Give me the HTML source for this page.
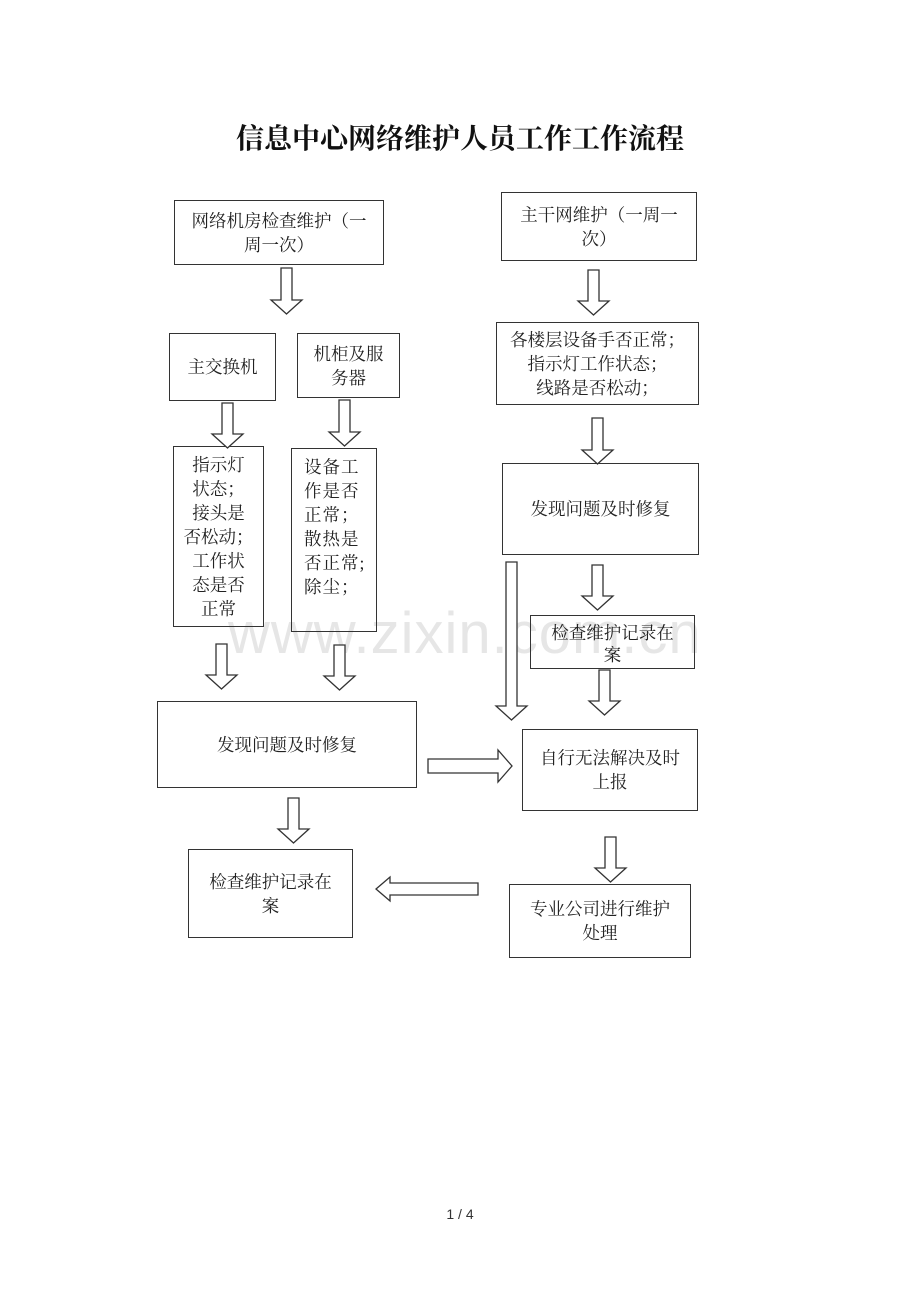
<!DOCTYPE html>
<html><head><meta charset="utf-8"><style>
body{margin:0;background:#fff;}
#p{position:relative;width:920px;height:1302px;overflow:hidden;font-family:"Liberation Serif","Noto Serif CJK SC","Noto Sans CJK SC",serif;color:#222;}
.b{position:absolute;border:1.3px solid #333;box-sizing:border-box;display:flex;align-items:center;justify-content:center;text-align:center;font-size:17.5px;line-height:24px;}
.t{position:absolute;left:0;width:920px;top:117px;text-align:center;font-size:28px;font-weight:bold;color:#111;}
svg{position:absolute;left:0;top:0;}
</style></head><body><div id="p">
<div class="t">信息中心网络维护人员工作工作流程</div>
<div style="position:absolute;left:228px;top:600px;font-family:'Liberation Sans',sans-serif;font-size:58px;color:#e6e6e6;letter-spacing:1px;">www.zixin.com.cn</div>
<div class="b" style="left:174px;top:200px;width:210px;height:65px;">网络机房检查维护（一<br>周一次）</div>
<div class="b" style="left:501px;top:192px;width:196px;height:69px;">主干网维护（一周一<br>次）</div>
<div class="b" style="left:169px;top:333px;width:107px;height:68px;">主交换机</div>
<div class="b" style="left:297px;top:333px;width:103px;height:65px;">机柜及服<br>务器</div>
<div class="b" style="left:173px;top:446px;width:91px;height:181px;align-items:flex-start;padding-top:6px;">指示灯<br>状态；<br>接头是<br>否松动；<br>工作状<br>态是否<br>正常</div>
<div class="b" style="left:291px;top:448px;width:86px;height:184px;align-items:flex-start;justify-content:flex-start;text-align:left;padding:6px 0 0 12px;letter-spacing:1px;">设备工<br>作是否<br>正常；<br>散热是<br>否正常;<br>除尘；</div>
<div class="b" style="left:496px;top:322px;width:203px;height:83px;">各楼层设备手否正常；<br>指示灯工作状态；<br>线路是否松动；</div>
<div class="b" style="left:502px;top:463px;width:197px;height:92px;">发现问题及时修复</div>
<div class="b" style="left:530px;top:615px;width:165px;height:54px;line-height:22px;align-items:flex-start;padding-top:6px;overflow:hidden;">检查维护记录在<br>案</div>
<div class="b" style="left:157px;top:701px;width:260px;height:87px;">发现问题及时修复</div>
<div class="b" style="left:522px;top:729px;width:176px;height:82px;">自行无法解决及时<br>上报</div>
<div class="b" style="left:188px;top:849px;width:165px;height:89px;">检查维护记录在<br>案</div>
<div class="b" style="left:509px;top:884px;width:182px;height:74px;">专业公司进行维护<br>处理</div>
<svg width="920" height="1302" fill="#fff" stroke="#333" stroke-width="1.3">
<path d="M281,268 h11 v32 h10 l-15.5,14 l-15.5,-14 h10 z"/>
<path d="M588,270 h11 v31 h10 l-15.5,14 l-15.5,-14 h10 z"/>
<path d="M222,403 h11 v31 h10 l-15.5,14 l-15.5,-14 h10 z"/>
<path d="M339,400 h11 v32 h10 l-15.5,14 l-15.5,-14 h10 z"/>
<path d="M592,418 h11 v32 h10 l-15.5,14 l-15.5,-14 h10 z"/>
<path d="M592,565 h11 v31 h10 l-15.5,14 l-15.5,-14 h10 z"/>
<path d="M216,644 h11 v31 h10 l-15.5,14 l-15.5,-14 h10 z"/>
<path d="M334,645 h11 v31 h10 l-15.5,14 l-15.5,-14 h10 z"/>
<path d="M506,562 h11 v144 h10 l-15.5,14 l-15.5,-14 h10 z"/>
<path d="M599,670 h11 v31 h10 l-15.5,14 l-15.5,-14 h10 z"/>
<path d="M288,798 h11 v31 h10 l-15.5,14 l-15.5,-14 h10 z"/>
<path d="M605,837 h11 v31 h10 l-15.5,14 l-15.5,-14 h10 z"/>
<path d="M428,759 h70 v-9 l14,16 l-14,16 v-9 h-70 z"/>
<path d="M478,883 h-88 v-6 l-14,12 l14,12 v-6 h88 z"/>
</svg>
<div style="position:absolute;left:0;width:920px;top:1206px;text-align:center;font-family:'Liberation Sans',sans-serif;font-size:14px;color:#333;">1 / 4</div>
</div></body></html>
